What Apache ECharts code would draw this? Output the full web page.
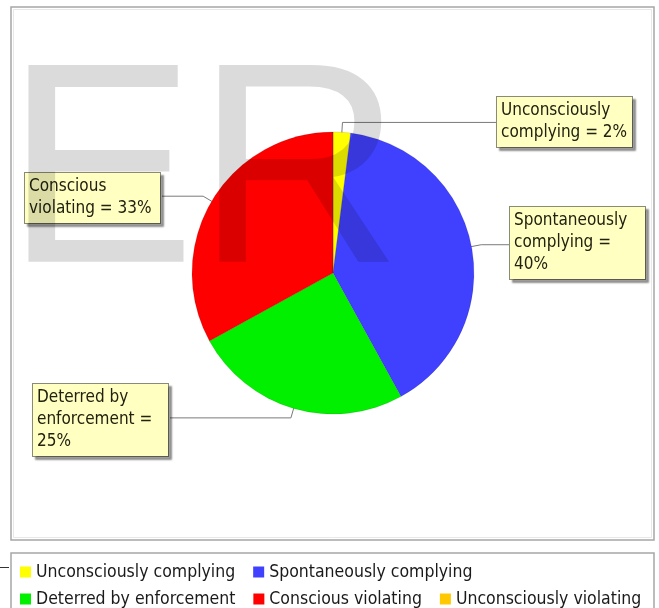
<!DOCTYPE html>
<html>
<head>
<meta charset="utf-8">
<script src="https://cdn.jsdelivr.net/npm/echarts@6/dist/echarts.min.js"></script>
<style>
  html, body { margin: 0; padding: 0; background: #ffffff; }
  #chart { width: 659px; height: 608px; }
</style>
</head>
<body>
<div id="chart"></div>
<script>
// Compliance shares (percent of population)
const categories = [
  'Unconsciously complying',
  'Spontaneously complying',
  'Deterred by enforcement',
  'Conscious violating',
  'Unconsciously violating'
];
const shares = [2, 40, 25, 33, 0];
const sliceColors = ['#FFFF00', '#4040FF', '#00F000', '#FF0000', '#FFC800'];
const legendRows = [[0, 1], [2, 3, 4]];

// Layout constants
const FONT = '"DejaVu Sans Condensed", "Liberation Sans Narrow", "DejaVu Sans", sans-serif';
const CX = 333, CY = 273, R = 141;
// top-left corner of each callout box, keyed by slice index
const calloutAt = { 0: [497, 97], 1: [510, 207], 2: [33, 384], 3: [25, 173] };

const total = shares.reduce((a, b) => a + b, 0);
function midDirection(idx) {
  let before = 0;
  for (let i = 0; i < idx; i++) before += shares[i];
  const ang = (before + shares[idx] / 2) / total * Math.PI * 2; // clockwise from 12 o'clock
  return [Math.sin(ang), -Math.cos(ang)];
}

const chart = echarts.init(document.getElementById('chart'), null, { renderer: 'canvas' });

const legendBase = {
  orient: 'horizontal',
  left: 20,
  padding: 0,
  icon: 'rect',
  itemWidth: 11,
  itemHeight: 11,
  itemGap: 18,
  selectedMode: false,
  itemStyle: { borderWidth: 0 },
  textStyle: { fontFamily: FONT, fontSize: 17.5, lineHeight: 18, color: '#1a1a1a' }
};

chart.setOption({
  animation: false,
  backgroundColor: '#ffffff',
  legend: [
    Object.assign({}, legendBase, { top: 563, data: legendRows[0].map(i => categories[i]) }),
    Object.assign({}, legendBase, { top: 590, data: legendRows[1].map(i => categories[i]) })
  ],
  graphic: [
    { type: 'rect', z: 0, shape: { x: 11, y: 7, width: 643, height: 533 },
      style: { fill: 'none', stroke: '#a6a6a6', lineWidth: 1.5 } },
    { type: 'rect', z: 0, shape: { x: 13.5, y: 9.5, width: 638, height: 528 },
      style: { fill: 'none', stroke: '#e8e8e8', lineWidth: 1 } },
    { type: 'rect', z: 0, shape: { x: 11, y: 553, width: 643, height: 60 },
      style: { fill: 'none', stroke: '#a6a6a6', lineWidth: 1.5 } },
    { type: 'line', z: 0, shape: { x1: 0, y1: 567.5, x2: 9, y2: 567.5 },
      style: { stroke: '#333333', lineWidth: 1 } },
    // translucent "ER" watermark laid over the plot
    { type: 'text', z: 100, silent: true, x: 5, y: 183,
      style: { text: 'ER', font: '286px "Liberation Sans", Arial, sans-serif',
               fill: 'rgba(0,0,0,0.14)', align: 'left', verticalAlign: 'middle' } }
  ],
  series: [{
    type: 'pie',
    center: [CX, CY],
    radius: R,
    startAngle: 90,
    clockwise: true,
    avoidLabelOverlap: false,
    emphasis: { disabled: true },
    itemStyle: { borderColor: 'rgba(0,0,0,0.18)', borderWidth: 0.6 },
    label: {
      show: true,
      position: 'outside',
      formatter: p => p.name + ' = ' + Math.round(p.percent) + '%',
      width: 128,
      overflow: 'break',
      fontFamily: FONT,
      fontSize: 17,
      lineHeight: 22,
      color: '#222211',
      backgroundColor: '#FFFFC2',
      borderColor: '#8a8a78',
      borderWidth: 1,
      padding: [3, 3, 3, 4],
      shadowColor: 'rgba(0,0,0,0.35)',
      shadowOffsetX: 3,
      shadowOffsetY: 3,
      shadowBlur: 2
    },
    labelLine: { show: true, smooth: false, lineStyle: { color: '#7a7a7a', width: 1 } },
    labelLayout: function (p) {
      const pos = calloutAt[p.dataIndex];
      if (!pos) return {};
      const d = midDirection(p.dataIndex);
      const inner = [CX + d[0] * R * 0.88, CY + d[1] * R * 0.88];
      const elbow = [CX + d[0] * R * 1.07, CY + d[1] * R * 1.07];
      const onRight = pos[0] > CX;
      const end = [onRight ? pos[0] : pos[0] + p.labelRect.width, elbow[1]];
      return {
        x: pos[0], y: pos[1], align: 'left', verticalAlign: 'top',
        labelLinePoints: [inner, elbow, end]
      };
    },
    data: categories.map((name, i) => {
      const item = { name: name, value: shares[i], itemStyle: { color: sliceColors[i] } };
      if (shares[i] === 0) {
        item.label = { show: false };
        item.labelLine = { show: false };
      }
      return item;
    })
  }]
});
</script>
</body>
</html>
